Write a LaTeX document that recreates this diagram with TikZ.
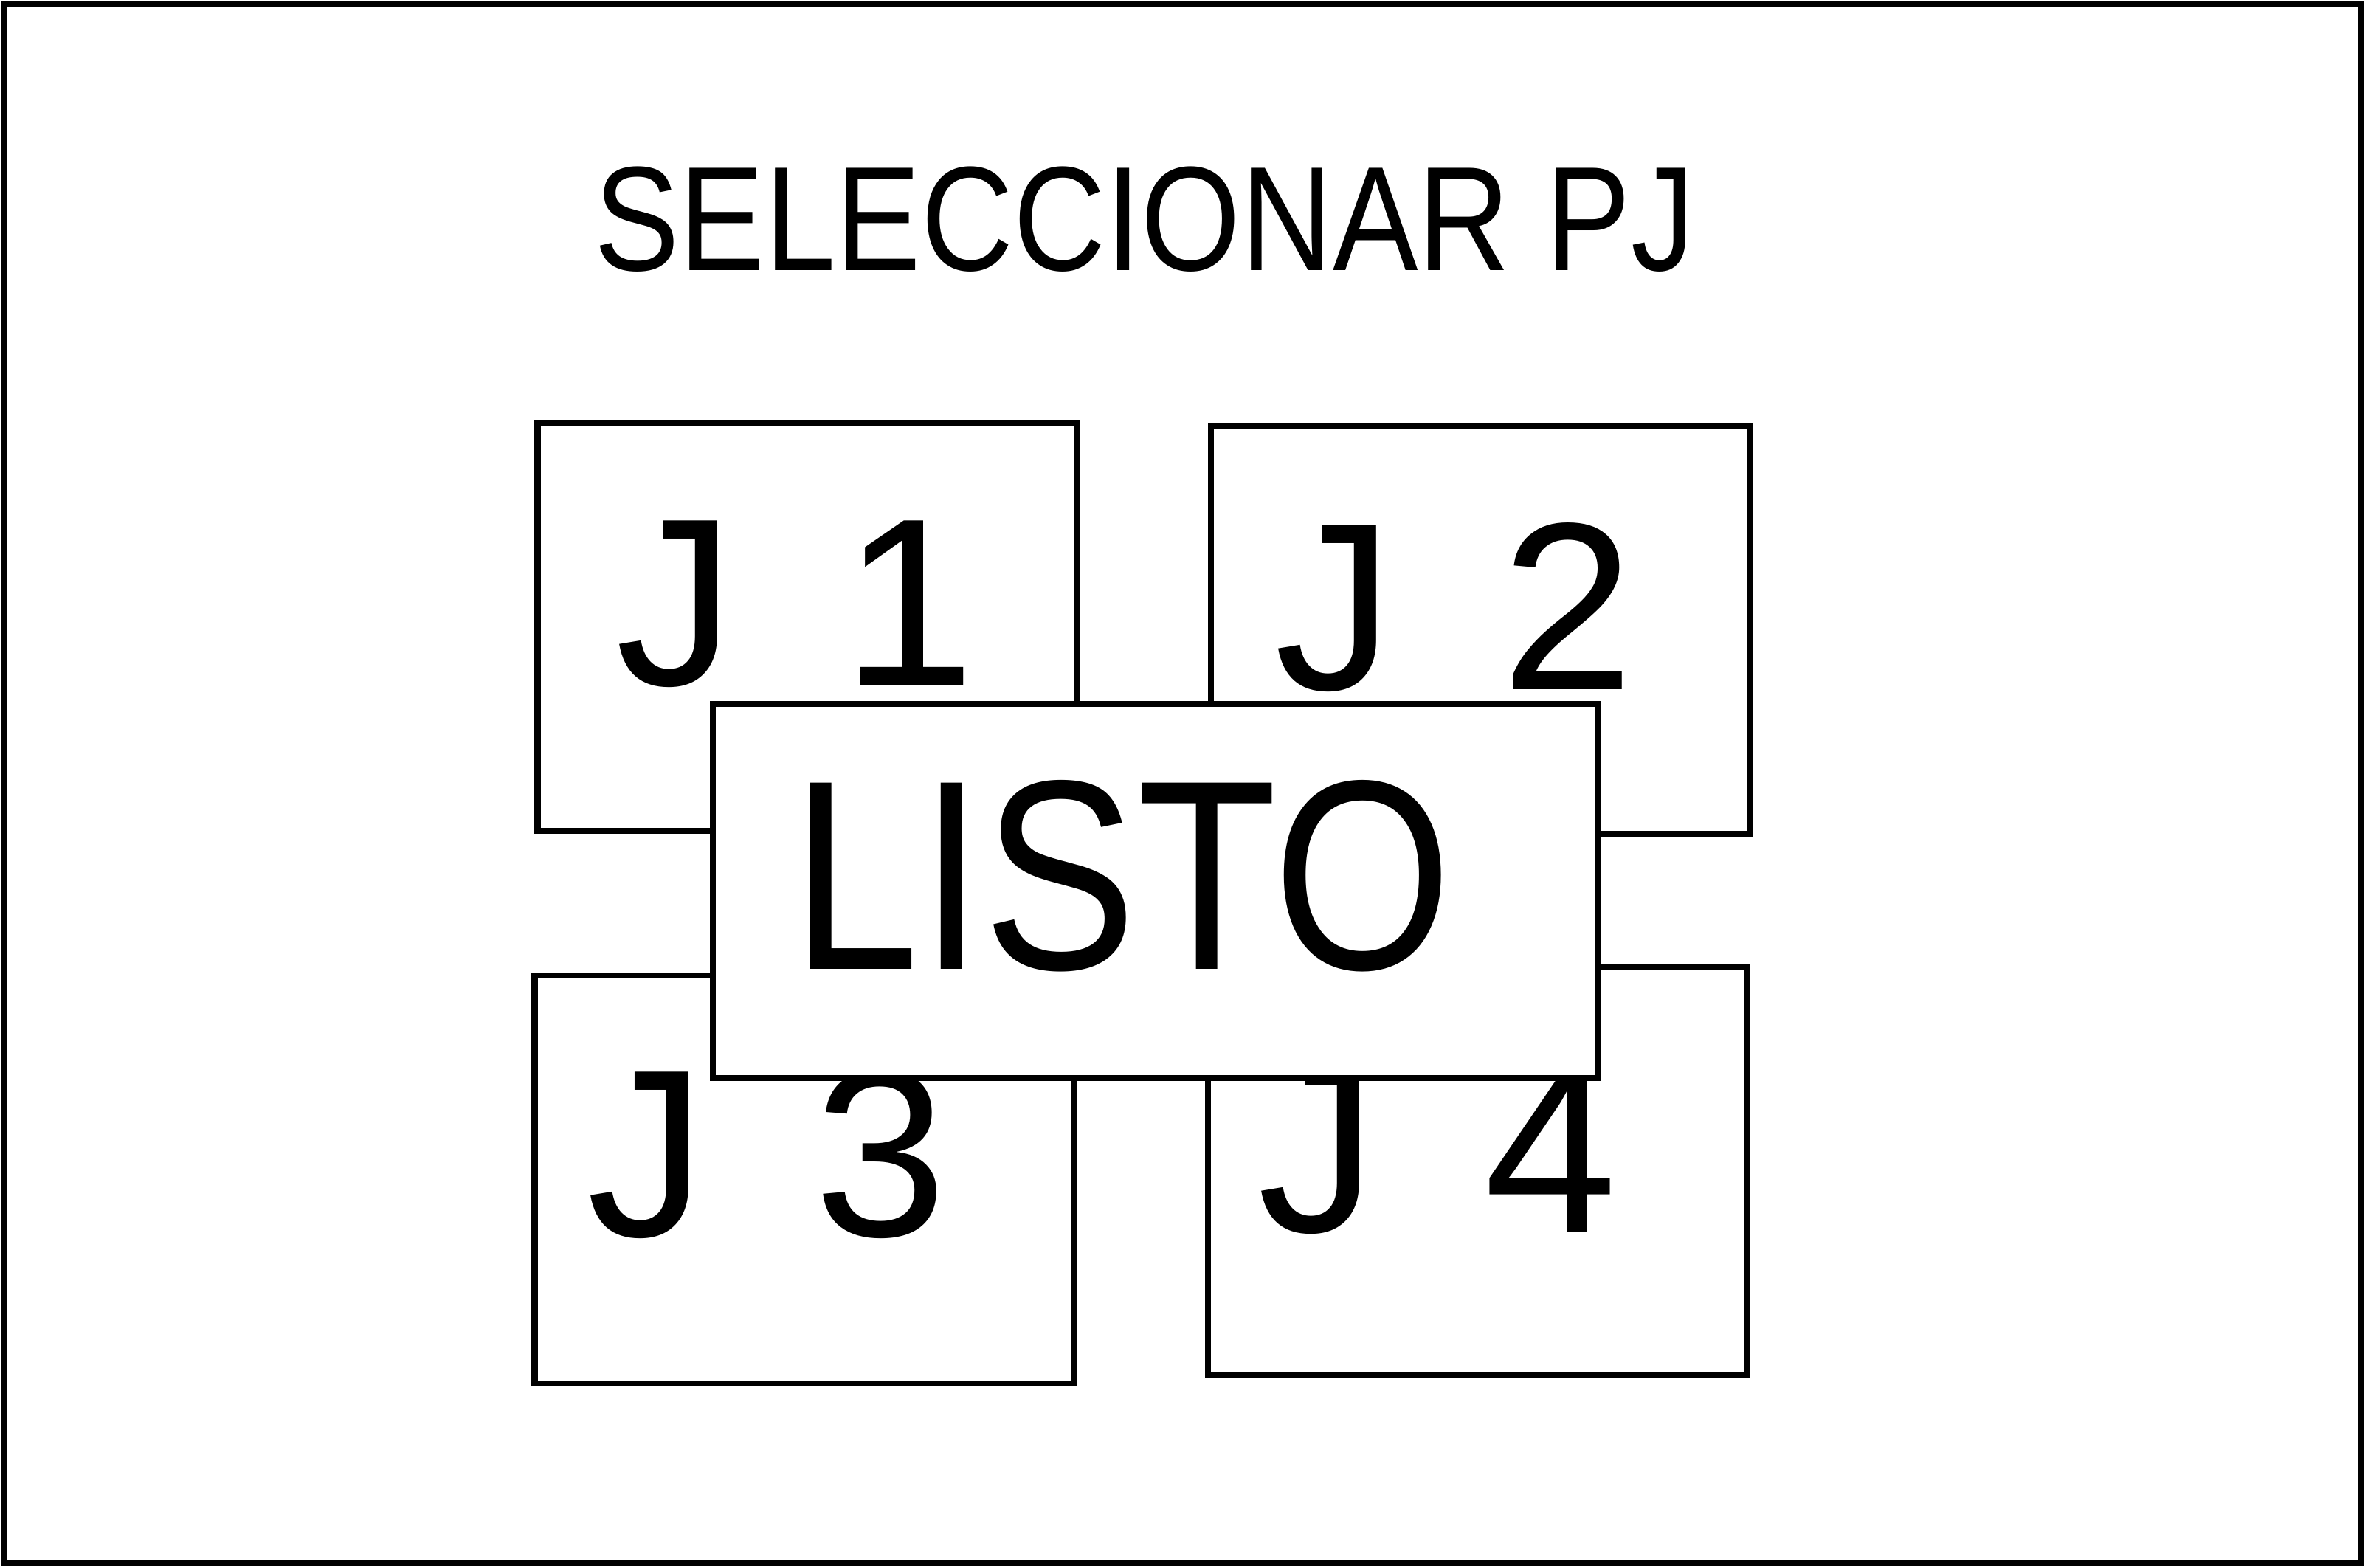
\documentclass[tikz,border=0pt]{standalone}
\usepackage{fontspec}
\usepackage{graphicx}
\setmainfont{Liberation Sans}
\begin{document}
\begin{tikzpicture}[x=0.1mm,y=-0.1mm,
  frame/.style={draw, line width=0.4mm, inner sep=0pt, outer sep=0pt},
  card/.style={draw, line width=0.4mm, inner sep=0pt, outer sep=0pt, minimum width=35.7mm, minimum height=27mm},
  lbl/.style={inner sep=0pt, font=\fontsize{45}{45}\selectfont},
  readybox/.style={draw, fill=white, line width=0.4mm, inner sep=0pt, minimum width=58.6mm, minimum height=24.8mm},
  title/.style={inner sep=0pt, font=\fontsize{28}{28}\selectfont}]
\useasboundingbox (0,0) rectangle (1568,1038);
\node[frame, minimum width=156mm, minimum height=103.2mm] (outer) at (783,519) {};
\node[title] (ttl) at (758,145) {\scalebox{0.86}[1]{SELECCIONAR PJ}};
\node[card] (j1) at (534.5,415) {};
\node[card] (j2) at (980.5,417) {};
\node[card] (j3) at (532.5,781) {};
\node[card] (j4) at (978.5,775.5) {};
\node[lbl] (t1) at (527,400) {J\hspace{0.45em}1};
\node[lbl] (t2) at (963,402) {J\hspace{0.45em}2};
\node[lbl] (t3) at (508,764) {J\hspace{0.45em}3};
\node[lbl] (t4) at (952,762) {J\hspace{0.45em}4};
\node[readybox] (listo) at (765,590) {};
\node[inner sep=0pt, font=\fontsize{51}{51}\selectfont] (tl) at (743,580) {\scalebox{0.85}[1]{LISTO}};
\end{tikzpicture}
\end{document}
